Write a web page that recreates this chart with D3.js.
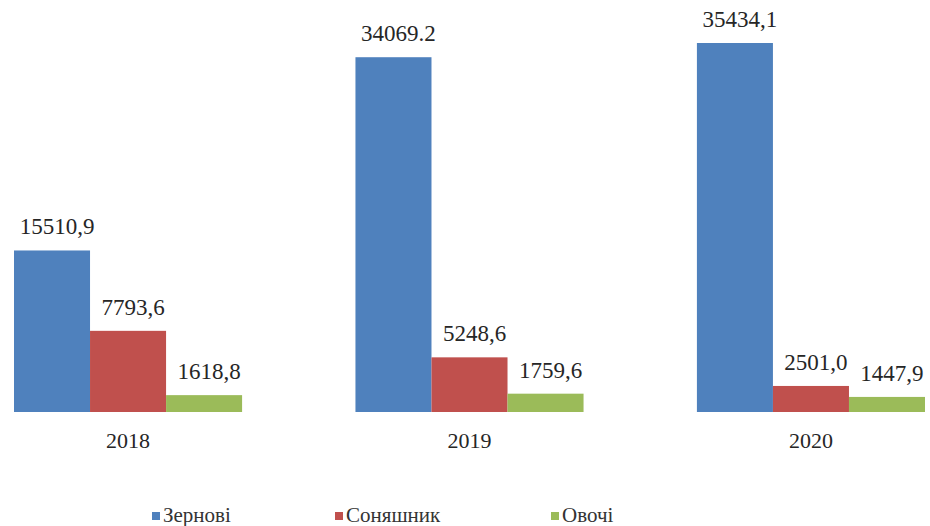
<!DOCTYPE html>
<html>
<head>
<meta charset="utf-8">
<script src="https://cdn.jsdelivr.net/npm/d3@7"></script>
<style>
  html, body { margin: 0; padding: 0; background: #fff; }
  svg { display: block; }
</style>
</head>
<body>
<svg id="chart" width="930" height="526"></svg>
<script>
const years = ["2018", "2019", "2020"];
const seriesNames = ["Зернові", "Соняшник", "Овочі"];
const seriesColors = ["#4F81BD", "#C0504D", "#9BBB59"];
const grain = [15510.9, 34069.2, 35434.1];
const sunflower = [7793.6, 5248.6, 2501.0];
const vegetables = [1618.8, 1759.6, 1447.9];
const grainLabels = ["15510,9", "34069.2", "35434,1"];
const sunflowerLabels = ["7793,6", "5248,6", "2501,0"];
const vegetableLabels = ["1618,8", "1759,6", "1447,9"];

const seriesValues = [grain, sunflower, vegetables];
const seriesLabels = [grainLabels, sunflowerLabels, vegetableLabels];

const svg = d3.select("#chart");
const baseline = 412;
const serif = "Liberation Serif";
const textColor = "#262626";

const x0 = d3.scaleBand().domain(years).range([14, 925]).paddingInner(0.332).paddingOuter(0);
const x1 = d3.scaleBand().domain(seriesNames).range([0, x0.bandwidth()]).padding(0);
const y = d3.scaleLinear().domain([0, 35434.1]).range([baseline, 43]);

const rows = [];
years.forEach((yr, i) => {
  seriesNames.forEach((s, j) => {
    rows.push({ year: yr, series: s, value: seriesValues[j][i], label: seriesLabels[j][i], color: seriesColors[j] });
  });
});

const g = svg.append("g");
g.selectAll("rect.bar").data(rows).enter().append("rect")
  .attr("class", "bar")
  .attr("x", d => x0(d.year) + x1(d.series))
  .attr("y", d => y(d.value))
  .attr("width", x1.bandwidth())
  .attr("height", d => baseline - y(d.value))
  .attr("fill", d => d.color);

g.selectAll("text.val").data(rows).enter().append("text")
  .attr("class", "val")
  .attr("x", d => x0(d.year) + x1(d.series) + x1.bandwidth() / 2 + 5)
  .attr("y", d => y(d.value) - 16)
  .attr("text-anchor", "middle")
  .attr("font-family", serif)
  .attr("font-size", 23)
  .attr("fill", textColor)
  .text(d => d.label);

// x axis labels
const xAxis = d3.axisBottom(x0).tickSize(0).tickPadding(0);
const ax = svg.append("g").attr("transform", `translate(0,${baseline})`).call(xAxis)
  .attr("font-family", serif).attr("font-size", 22);
ax.select(".domain").remove();
ax.selectAll("text")
  .attr("y", 36)
  .attr("dy", 0)
  .attr("fill", textColor);

// legend
const legendX = [152, 335, 551];
const legend = svg.append("g");
seriesNames.forEach((s, j) => {
  const lg = legend.append("g").attr("transform", `translate(${legendX[j]},522)`);
  lg.append("rect").attr("x", 0).attr("y", -10).attr("width", 8).attr("height", 8).attr("fill", seriesColors[j]);
  lg.append("text").attr("x", 11).attr("y", 0).attr("font-family", serif).attr("font-size", 21)
    .attr("fill", "#333").text(s);
});
</script>
</body>
</html>
